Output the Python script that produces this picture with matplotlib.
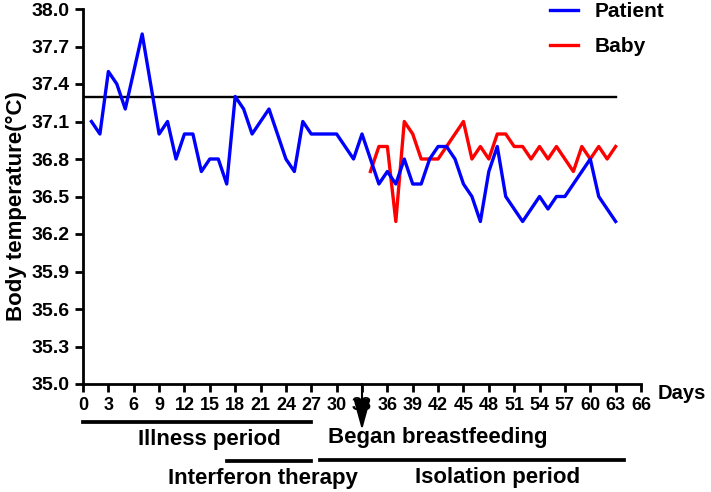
import matplotlib
matplotlib.use("Agg")
import matplotlib.pyplot as plt

plt.rcParams['font.family'] = ['Liberation Sans', 'DejaVu Sans']
plt.rcParams['font.weight'] = 'bold'

# patient temperatures, day 1..63
patient_days = list(range(1, 64))
patient_temp = [37.1, 37.0, 37.5, 37.4, 37.2, 37.5, 37.8, 37.4, 37.0, 37.1,
                36.8, 37.0, 37.0, 36.7, 36.8, 36.8, 36.6, 37.3, 37.2, 37.0,
                37.1, 37.2, 37.0, 36.8, 36.7, 37.1, 37.0, 37.0, 37.0, 37.0,
                36.9, 36.8, 37.0, 36.8, 36.6, 36.7, 36.6, 36.8, 36.6, 36.6,
                36.8, 36.9, 36.9, 36.8, 36.6, 36.5, 36.3, 36.7, 36.9, 36.5,
                36.4, 36.3, 36.4, 36.5, 36.4, 36.5, 36.5, 36.6, 36.7, 36.8,
                36.5, 36.4, 36.3]

# baby temperatures, day 34..63
baby_days = list(range(34, 64))
baby_temp = [36.7, 36.9, 36.9, 36.3, 37.1, 37.0, 36.8, 36.8, 36.8, 36.9,
             37.0, 37.1, 36.8, 36.9, 36.8, 37.0, 37.0, 36.9, 36.9, 36.8,
             36.9, 36.8, 36.9, 36.8, 36.7, 36.9, 36.8, 36.9, 36.8, 36.9]

fever_line = 37.3
fever_days = [0, 63]

# periods under the axis: (start day, end day, label, label day)
illness = (0, 27, 'Illness period', 15)
interferon = (17, 27, 'Interferon therapy', 21.3)
isolation = (28, 64, 'Isolation period', 49)
breastfeeding_day = 33

fig = plt.figure(figsize=(7.11, 4.92), dpi=100)
ax = fig.add_axes([83/711, 1 - 384/492, 558/711, 375/492])

ax.plot(fever_days, [fever_line, fever_line], color='black', lw=1.7, zorder=2)
ax.plot(baby_days, baby_temp, color='#ff0000', lw=2.4, label='Baby', zorder=3)
ax.plot(patient_days, patient_temp, color='#0000ff', lw=2.4, label='Patient', zorder=4)

ax.set_xlim(0, 66)
ax.set_ylim(35, 38)
ax.set_xticks(range(0, 67, 3))
ax.set_yticks([35 + 0.3 * i for i in range(11)])
ax.set_yticklabels(['%.1f' % (35 + 0.3 * i) for i in range(11)], fontsize=14)
ax.tick_params(axis='x', labelsize=13, pad=3)
ax.tick_params(length=6, width=2, direction='out')
for s in ['top', 'right']:
    ax.spines[s].set_visible(False)
for s in ['left', 'bottom']:
    ax.spines[s].set_linewidth(2)

ax.set_ylabel('Body temperature(\u00b0C)', fontsize=16, fontweight='bold')
ax.yaxis.set_label_coords(-0.1, 0.475)

ax.text(68, -0.025, 'Days', transform=ax.get_xaxis_transform(),
        fontsize=14.5, fontweight='bold', ha='left', va='center', clip_on=False)

tr = ax.get_xaxis_transform()
for (d0, d1, lab, dl), ly, ty in [(illness, -0.1013, -0.149),
                                   (interferon, -0.2053, -0.251),
                                   (isolation, -0.2027, -0.248)]:
    ax.plot([d0, d1], [ly, ly], color='black', lw=2.7, transform=tr, clip_on=False)
    ax.text(dl, ty, lab, transform=tr, fontsize=16, fontweight='bold',
            ha='center', va='center', clip_on=False)

ax.annotate('', xy=(breastfeeding_day, -0.123), xytext=(breastfeeding_day, 0.0),
            xycoords=('data', 'axes fraction'), textcoords=('data', 'axes fraction'),
            arrowprops=dict(arrowstyle='-|>,head_length=1.9,head_width=0.52',
                            mutation_scale=10, color='black', lw=1.5,
                            shrinkA=0, shrinkB=0), annotation_clip=False)
ax.text(42, -0.144, 'Began breastfeeding', transform=tr, fontsize=16,
        fontweight='bold', ha='center', va='center', clip_on=False)

handles, labels = ax.get_legend_handles_labels()
leg = fig.legend(handles[::-1], labels[::-1], loc='upper left',
                 bbox_to_anchor=(550/711, 0.995), frameon=False, fontsize=15,
                 handlelength=1.35, handletextpad=0.8, labelspacing=0.75,
                 borderpad=0, borderaxespad=0)

fig.savefig('out.png', dpi=100)
